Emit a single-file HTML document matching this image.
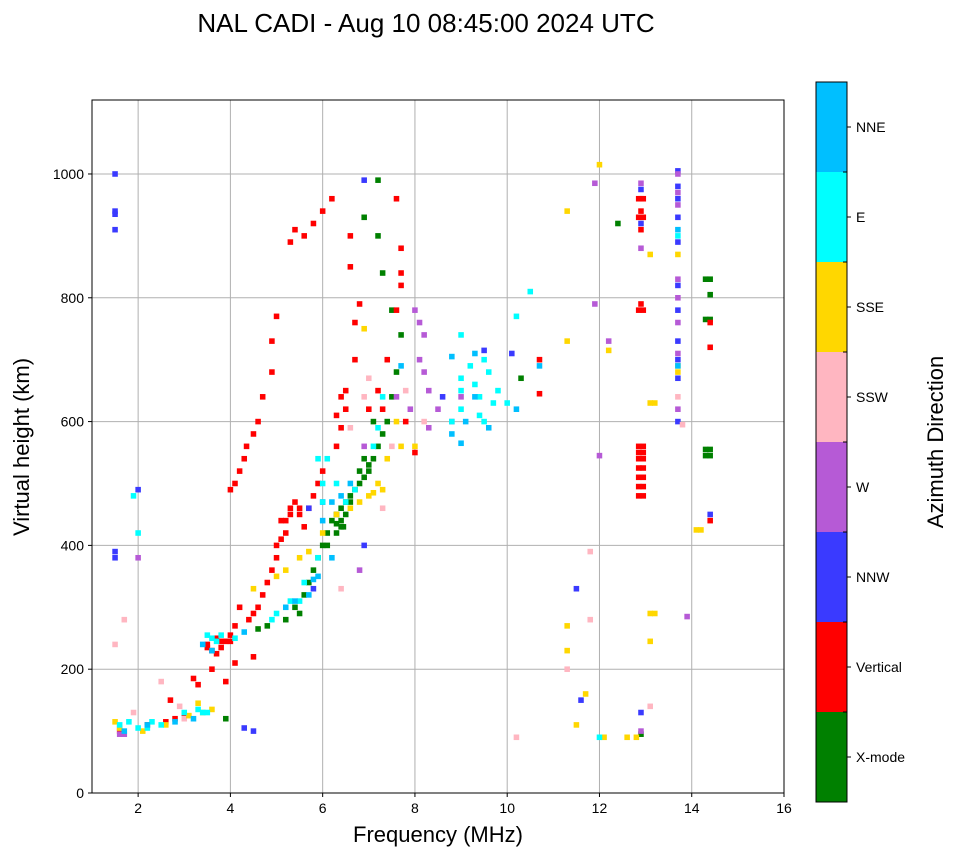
<!DOCTYPE html>
<html><head><meta charset="utf-8"><style>
body{margin:0;background:#fff;}
svg{display:block;font-family:"Liberation Sans","DejaVu Sans",sans-serif;}
</style></head><body>
<svg id="chart" width="958" height="857" viewBox="0 0 958 857" xmlns="http://www.w3.org/2000/svg">
<text x="426" y="32" font-size="26" text-anchor="middle">NAL CADI - Aug 10 08:45:00 2024 UTC</text>
<g id="grid"></g>
<g id="marks"></g>
<rect x="92" y="100" width="692" height="693" fill="none" stroke="#000" stroke-width="1"/>
<g id="axes"></g>
<text x="438" y="842" font-size="22" text-anchor="middle">Frequency (MHz)</text>
<text transform="translate(29,447) rotate(-90)" font-size="22" text-anchor="middle">Virtual height (km)</text>
<g id="cbar"></g>
<text transform="translate(943,442) rotate(-90)" font-size="22" text-anchor="middle">Azimuth Direction</text>
</svg>
<script>
const xTicks=[2,4,6,8,10,12,14,16];
const yTicks=[0,200,400,600,800,1000];
const modeNames=["X-mode","Vertical","NNW","W","SSW","SSE","E","NNE"];
const modeColors=["#008000","#ff0000","#3a3aff","#b65ad6","#ffb6c1","#ffd700","#00ffff","#00bfff"];
const xmodeF=[5.2,5.4,5.6,5.7,5.8,5.9,6.0,6.1,6.2,6.3,6.4,6.5,6.6,6.7,6.8,6.9,7.0,7.1,7.2,7.3,7.4,7.5,7.6,7.7,7.5,7.3,7.2,7.2,6.9,4.8,4.6,5.5,6.1,6.4,6.3,6.9,7.1,14.4,14.4,14.3,14.3,14.4,14.3,14.4,14.3,12.9,12.4,10.3,3.9,14.4,6.4,6.5,6.8,7.0,6.3,6.45,6.6];
const xmodeH=[280,300,320,340,360,380,400,420,440,450,460,470,480,490,500,510,520,540,560,580,600,640,680,740,780,840,900,990,930,270,265,290,400,430,420,540,600,545,555,545,555,830,830,765,765,95,920,670,120,805,440,450,520,530,435,430,470];
const vertF=[1.6,2.2,2.6,2.8,3.0,2.7,3.2,3.3,3.5,3.6,3.7,3.8,3.9,4.0,4.1,4.2,4.4,4.5,4.6,4.7,4.8,4.9,5.0,5.1,5.2,5.3,5.4,5.5,5.6,5.7,5.8,5.9,6.0,6.3,6.4,6.5,6.5,6.7,6.7,6.8,6.6,6.6,6.2,6.0,5.8,5.6,5.4,5.3,4.0,4.2,4.3,4.5,4.7,4.9,4.9,5.0,4.1,4.35,4.6,7.0,7.2,7.4,7.6,7.7,7.7,7.7,7.6,7.3,7.8,8.0,10.7,10.7,12.85,12.95,12.85,12.95,12.85,12.95,12.85,12.95,12.9,12.9,12.9,12.9,14.4,14.4,14.4,3.6,3.9,4.1,4.5,5.1,5.3,5.5,6.3,6.4,12.85,12.95,12.85,12.95,12.85,12.95,12.85,12.95,12.85,12.95,12.85,12.95,3.5,3.7,3.8,4.0,5.2,5.0];
const vertH=[100,110,115,120,125,150,185,175,240,230,250,235,245,255,270,300,280,290,300,320,340,360,380,410,440,460,470,450,430,460,480,500,520,560,590,620,650,700,760,790,850,900,960,940,920,900,910,890,490,520,540,580,640,680,730,770,500,560,600,620,650,700,780,840,820,880,960,620,600,550,700,645,480,480,510,510,540,540,560,560,790,910,940,960,440,760,720,200,180,210,220,440,450,460,610,640,495,495,525,525,550,550,780,780,930,930,960,960,235,225,245,245,420,400];
const nnwF=[1.5,1.5,1.5,1.5,1.5,2.0,4.3,4.5,5.7,6.0,5.8,6.9,8.6,9.5,10.1,11.5,11.6,13.7,13.7,13.7,13.7,13.7,13.7,13.7,13.7,13.7,13.7,13.7,12.9,12.9,12.9,6.9,14.4,1.5];
const nnwH=[1000,940,910,390,380,490,105,100,460,470,330,400,640,715,710,330,150,1005,980,960,930,890,820,780,730,700,670,600,920,975,130,990,450,935];
const wF=[1.6,1.6,2.0,8.0,8.1,8.2,8.1,8.2,8.3,8.5,8.8,8.3,7.9,9.0,12.9,13.7,13.7,13.7,13.7,13.7,13.7,13.7,13.7,13.9,11.9,12.0,12.9,11.9,12.2,12.9,6.9,7.6,6.8,1.7];
const wH=[105,95,380,780,760,740,700,680,650,620,600,590,620,640,985,1000,970,950,830,800,760,710,620,285,790,545,100,985,730,880,560,640,360,95];
const sswF=[1.5,1.7,1.9,2.5,2.9,3.0,6.4,6.6,7.3,7.5,7.8,8.2,10.2,11.3,11.8,11.8,13.1,13.7,13.8,6.9,7.0];
const sswH=[240,280,130,180,140,120,330,590,460,560,650,600,90,200,390,280,140,640,595,640,670];
const sseF=[1.5,1.6,2.1,2.6,3.1,3.4,3.6,3.3,5.0,5.2,5.5,5.7,6.0,6.3,6.6,6.8,7.0,7.2,7.4,7.7,8.0,7.6,11.3,11.3,11.3,11.3,11.5,11.7,12.1,12.6,12.8,13.1,13.2,13.1,13.2,13.1,13.1,13.7,13.7,14.1,14.2,12.0,12.2,13.7,4.5,6.9,7.1,7.3];
const sseH=[115,105,100,110,125,130,135,145,350,360,380,390,420,450,460,470,480,500,540,560,560,600,730,940,270,230,110,160,90,90,90,290,290,630,630,870,245,690,680,425,425,1015,715,870,330,750,485,490];
const eF=[1.6,1.8,2.0,2.3,2.5,3.0,3.3,3.5,3.6,3.7,3.8,3.5,4.1,5.0,5.3,5.6,5.9,6.0,6.1,6.3,6.5,6.7,7.1,7.2,7.3,8.8,9.0,9.0,9.0,9.0,9.2,9.3,9.4,9.4,9.5,9.7,9.8,10.0,10.2,10.5,9.5,9.6,1.9,2.0,4.9,5.5,6.0,13.7,12.0,5.9,3.4,2.2];
const eH=[110,115,105,115,110,130,135,130,250,245,255,255,250,290,310,340,380,470,540,500,470,490,560,590,640,600,620,650,670,740,690,660,640,610,600,630,650,630,770,810,700,680,480,420,280,310,500,900,90,540,130,105];
const nneF=[1.7,2.2,2.8,3.2,3.4,3.6,4.3,5.2,5.4,5.7,5.8,6.0,6.2,6.4,6.6,8.8,9.0,9.1,9.3,9.6,10.2,10.7,13.7,13.7,7.7,8.8,9.3,5.9,6.2];
const nneH=[100,110,115,120,240,230,260,300,310,320,345,440,470,480,500,580,565,600,640,590,620,690,910,690,690,705,710,350,380];
const seriesF=[xmodeF,vertF,nnwF,wF,sswF,sseF,eF,nneF];
const seriesH=[xmodeH,vertH,nnwH,wH,sswH,sseH,eH,nneH];

const NS="http://www.w3.org/2000/svg";
const X0=92,X1=784,Y0=793,Y1=100,FMIN=1,FMAX=16,HMIN=0,HMAX=1119.5;
const xs=f=>X0+(f-FMIN)/(FMAX-FMIN)*(X1-X0);
const ys=h=>Y0-(h-HMIN)/(HMAX-HMIN)*(Y0-Y1);
function mk(tag,attrs,parent){const e=document.createElementNS(NS,tag);for(const k in attrs)e.setAttribute(k,attrs[k]);parent.appendChild(e);return e;}
const grid=document.getElementById('grid'),axes=document.getElementById('axes'),marks=document.getElementById('marks'),cbar=document.getElementById('cbar');
xTicks.forEach(t=>{const x=xs(t);
 const g=mk('line',{x1:x,x2:x,y1:Y1,y2:Y0,stroke:'#b0b0b0','stroke-width':1},grid);
 
 
 mk('line',{x1:x,x2:x,y1:Y0,y2:Y0+4,stroke:'#000'},axes);
 const l=mk('text',{x:x,y:Y0+20,'font-size':14,'text-anchor':'middle'},axes);l.textContent=t;
 
 });
yTicks.forEach(t=>{const y=ys(t);
 const g=mk('line',{x1:X0,x2:X1,y1:y,y2:y,stroke:'#b0b0b0','stroke-width':1},grid);
 
 
 mk('line',{x1:X0-4,x2:X0,y1:y,y2:y,stroke:'#000'},axes);
 const l=mk('text',{x:X0-8,y:y+5,'font-size':14,'text-anchor':'end'},axes);l.textContent=t;
 
 });
const MW=0.12,MH=9;
seriesF.forEach((fs,m)=>{fs.forEach((f,i)=>{const h=seriesH[m][i];
 const x=xs(f-MW/2),y=ys(h+MH/2);
 const r=mk('rect',{x:x,y:y,width:xs(f+MW/2)-x,height:ys(h-MH/2)-y,fill:modeColors[m]},marks);
 
 });});
const CX=816,CW=31,CT=82,CB=802,seg=(CB-CT)/modeNames.length;
modeNames.forEach((n,i)=>{const y=CB-(i+1)*seg;
 const r=mk('rect',{x:CX,y:y,width:CW,height:seg,fill:modeColors[i]},cbar);
 
 
 mk('line',{x1:CX+CW,x2:CX+CW+4,y1:y+seg/2,y2:y+seg/2,stroke:'#000'},cbar);
 const l=mk('text',{x:CX+CW+9,y:y+seg/2+5,'font-size':14},cbar);l.textContent=n;
 
 });
for(let i=0;i<=modeNames.length;i++){const y=CT+i*seg;mk('line',{x1:CX+CW-4,x2:CX+CW,y1:y,y2:y,stroke:'#000'},cbar);}
mk('rect',{x:CX,y:CT,width:CW,height:CB-CT,fill:'none',stroke:'#000'},cbar);
</script>
</body></html>
